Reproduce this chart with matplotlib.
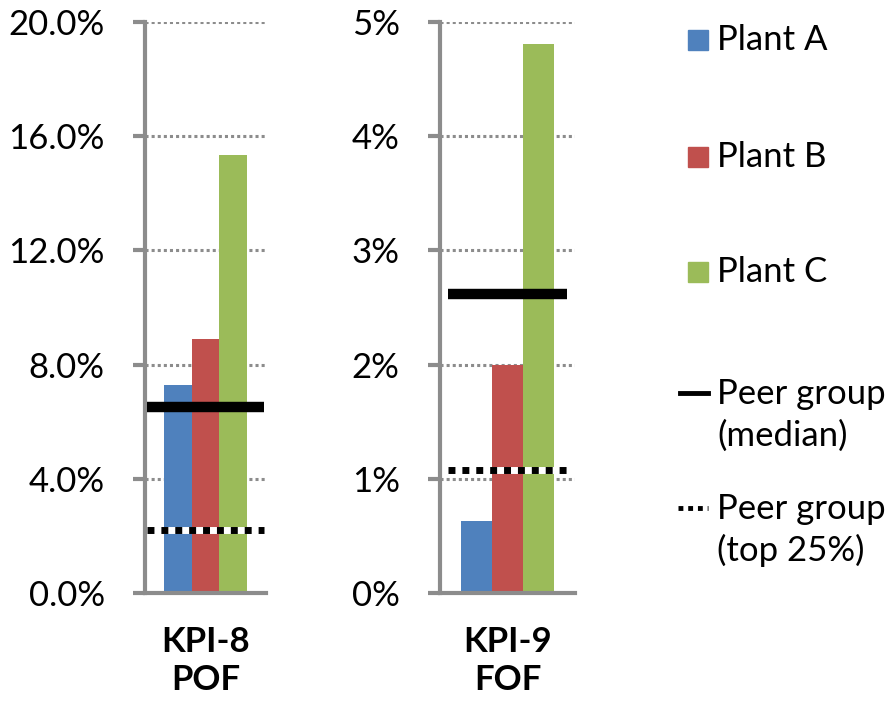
import matplotlib.pyplot as plt
from matplotlib.lines import Line2D
from matplotlib.patches import Rectangle

# data
plants = ["Plant A", "Plant B", "Plant C"]
colors = ["#4F81BD", "#C0504D", "#9BBB59"]

kpi8_values = [7.3, 8.9, 15.35]
kpi8_median = 6.5
kpi8_top25 = 2.2
kpi8_ticks = [0, 4, 8, 12, 16, 20]
kpi8_ticklabels = ["0.0%", "4.0%", "8.0%", "12.0%", "16.0%", "20.0%"]

kpi9_values = [0.63, 2.0, 4.81]
kpi9_median = 2.62
kpi9_top25 = 1.08
kpi9_ticks = [0, 1, 2, 3, 4, 5]
kpi9_ticklabels = ["0%", "1%", "2%", "3%", "4%", "5%"]

xlabels = ["KPI-8\nPOF", "KPI-9\nFOF"]

plt.rcParams['font.family'] = ['Lato', 'DejaVu Sans']
FS = 25
GRAY = "#8c8c8c"

fig = plt.figure(figsize=(8.93, 7.07), dpi=100)
W, H = 893, 707


def panel(left_px, right_px, values, median, top25, ticks, ticklabels,
          xlabel, line_span):
    ax = fig.add_axes([left_px / W, (H - 593) / H,
                       (right_px - left_px) / W, 571 / H])
    x = [-1, 0, 1]
    ax.bar(x, values, width=1.0, color=colors, zorder=2)
    ax.set_xlim(-2.2, 2.2)
    ax.set_ylim(ticks[0], ticks[-1])
    ax.set_yticks(ticks)
    ax.set_yticklabels(ticklabels, fontsize=FS)
    ax.set_xticks([])
    ax.grid(axis="y", color=GRAY, linestyle=(0, (1, 1)), linewidth=2.2)
    ax.set_axisbelow(True)
    for s in ["top", "right"]:
        ax.spines[s].set_visible(False)
    for s in ["left", "bottom"]:
        ax.spines[s].set_color(GRAY)
        ax.spines[s].set_linewidth(3)
    ax.tick_params(axis="y", length=9, width=3, color=GRAY, pad=20)
    ax.hlines(median, -line_span, line_span, color="black", linewidth=7.5,
              zorder=4)
    ax.hlines(top25, -line_span, line_span, color="white", linewidth=5,
              zorder=4)
    ax.hlines(top25, -line_span, line_span, color="black", linewidth=5,
              linestyle=(0, (1, 1)), zorder=5)
    ax.text(0, -0.058, xlabel, transform=ax.get_xaxis_transform(),
            ha="center", va="top", fontsize=FS, fontweight="bold",
            linespacing=1.22)
    return ax


panel(145, 266, kpi8_values, kpi8_median, kpi8_top25, kpi8_ticks,
      kpi8_ticklabels, xlabels[0], 2.13)
panel(440, 575, kpi9_values, kpi9_median, kpi9_top25, kpi9_ticks,
      kpi9_ticklabels, xlabels[1], 1.95)

# manual legend
legend_y = [40, 157, 272, 415, 530]
for i, (name, c) in enumerate(zip(plants, colors)):
    y = legend_y[i]
    fig.patches.append(Rectangle((688 / W, (H - y - 10) / H), 20 / W, 20 / H,
                                 color=c, transform=fig.transFigure))
    fig.text(717 / W, (H - y) / H, name, fontsize=FS, va="center")

y = legend_y[3]
fig.lines.append(Line2D([680 / W, 708 / W], [(H - y + 22) / H] * 2,
                        color="black", linewidth=3.5,
                        transform=fig.transFigure))
fig.text(717 / W, (H - y) / H, "Peer group\n(median)", fontsize=FS,
         va="center", linespacing=1.35)

y = legend_y[4]
fig.lines.append(Line2D([678 / W, 708 / W], [(H - y + 22) / H] * 2,
                        color="black", linewidth=3.5, linestyle=(0, (1, 1)),
                        transform=fig.transFigure))
fig.text(717 / W, (H - y) / H, "Peer group\n(top 25%)", fontsize=FS,
         va="center", linespacing=1.35)

fig.savefig("out.png", dpi=100)
